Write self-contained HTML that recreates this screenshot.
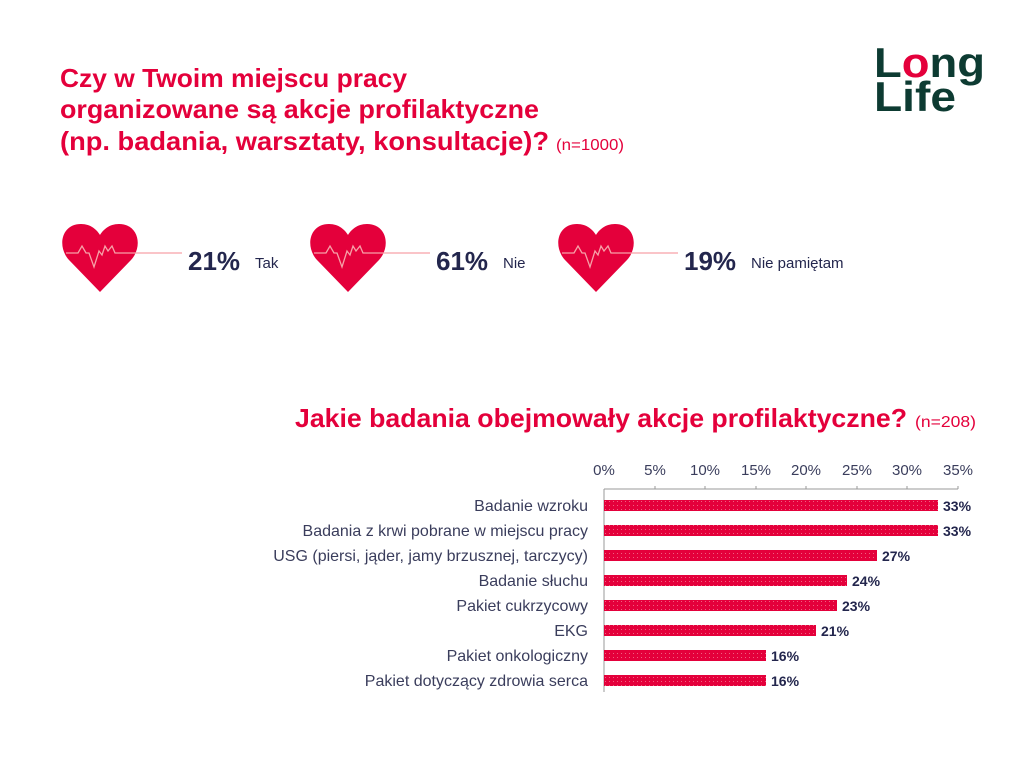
<!DOCTYPE html>
<html><head><meta charset="utf-8"><style>
html,body{margin:0;padding:0;background:#fff;width:1024px;height:768px;overflow:hidden}
svg{display:block}
</style></head><body>
<svg width="1024" height="768" viewBox="0 0 1024 768" xmlns="http://www.w3.org/2000/svg" font-family="Liberation Sans, sans-serif">
<defs>
<pattern id="dots" width="4" height="4" patternUnits="userSpaceOnUse">
<rect width="4" height="4" fill="#e4003b"/><rect x="1" y="1" width="1" height="1" fill="#f06080"/>
</pattern>
<g id="heart">
<path d="M40,70 L9,38 C-3,25 1,2 21,2 C31,2 37,8 40,13 C43,8 49,2 59,2 C79,2 83,25 71,38 Z" fill="#e4003b"/>
<polyline points="6,31 18,31 22,24 26,31 29,31 34,45 39,29 42,33 45,24 48,29 52,24 55,31 80,31" fill="none" stroke="#f6a1a8" stroke-width="1.3"/>
</g>
</defs>
<g fill="#e4003b" font-weight="bold" font-size="26">
<text x="60" y="87" textLength="347" lengthAdjust="spacingAndGlyphs">Czy w Twoim miejscu pracy</text>
<text x="60" y="118" textLength="479" lengthAdjust="spacingAndGlyphs">organizowane są akcje profilaktyczne</text>
<text x="60" y="150" textLength="489" lengthAdjust="spacingAndGlyphs">(np. badania, warsztaty, konsultacje)?</text>
<text x="556" y="150" font-size="16" font-weight="normal" textLength="68" lengthAdjust="spacingAndGlyphs">(n=1000)</text>
<text x="295" y="427" textLength="612" lengthAdjust="spacingAndGlyphs">Jakie badania obejmowały akcje profilaktyczne?</text>
<text x="915" y="427" font-size="16" font-weight="normal" textLength="61" lengthAdjust="spacingAndGlyphs">(n=208)</text>
</g>
<!-- logo -->
<g font-weight="bold" font-size="42" fill="#0d3b32">
<text x="874" y="77" textLength="111" lengthAdjust="spacingAndGlyphs">L<tspan fill="#e4003b">o</tspan>ng</text>
<text x="874" y="111" textLength="82" lengthAdjust="spacingAndGlyphs">Life</text>
</g>
<!-- hearts -->
<use href="#heart" x="60" y="222"/>
<line x1="140" y1="253" x2="182" y2="253" stroke="#f6a1a8" stroke-width="1.3"/>
<use href="#heart" x="308" y="222"/>
<line x1="388" y1="253" x2="430" y2="253" stroke="#f6a1a8" stroke-width="1.3"/>
<use href="#heart" x="556" y="222"/>
<line x1="636" y1="253" x2="678" y2="253" stroke="#f6a1a8" stroke-width="1.3"/>
<g fill="#23264d">
<text x="188" y="270" font-size="26" font-weight="bold">21%</text><text x="255" y="268" font-size="15">Tak</text>
<text x="436" y="270" font-size="26" font-weight="bold">61%</text><text x="503" y="268" font-size="15">Nie</text>
<text x="684" y="270" font-size="26" font-weight="bold">19%</text><text x="751" y="268" font-size="15">Nie pamiętam</text>
</g>
<!-- axis -->
<g fill="#3a3d5c" font-size="15" text-anchor="middle">
<text x="604" y="475">0%</text><text x="655" y="475">5%</text><text x="705" y="475">10%</text><text x="756" y="475">15%</text>
<text x="806" y="475">20%</text><text x="857" y="475">25%</text><text x="907" y="475">30%</text><text x="958" y="475">35%</text>
</g>
<g stroke="#999" stroke-width="1">
<line x1="604" y1="489" x2="958" y2="489"/>
<line x1="604" y1="489" x2="604" y2="692"/>
<line x1="655" y1="486" x2="655" y2="489"/><line x1="705" y1="486" x2="705" y2="489"/><line x1="756" y1="486" x2="756" y2="489"/>
<line x1="806" y1="486" x2="806" y2="489"/><line x1="857" y1="486" x2="857" y2="489"/><line x1="907" y1="486" x2="907" y2="489"/><line x1="958" y1="486" x2="958" y2="489"/>
</g>
<g fill="url(#dots)">
<rect x="604" y="500" width="334" height="11"/>
<rect x="604" y="525" width="334" height="11"/>
<rect x="604" y="550" width="273" height="11"/>
<rect x="604" y="575" width="243" height="11"/>
<rect x="604" y="600" width="233" height="11"/>
<rect x="604" y="625" width="212" height="11"/>
<rect x="604" y="650" width="162" height="11"/>
<rect x="604" y="675" width="162" height="11"/>
</g>
<g fill="#23264d" font-size="14" font-weight="bold">
<text x="943" y="511">33%</text><text x="943" y="536">33%</text><text x="882" y="561">27%</text><text x="852" y="586">24%</text>
<text x="842" y="611">23%</text><text x="821" y="636">21%</text><text x="771" y="661">16%</text><text x="771" y="686">16%</text>
</g>
<g fill="#3a3d5c" font-size="16" text-anchor="end">
<text x="588" y="511">Badanie wzroku</text>
<text x="588" y="536">Badania z krwi pobrane w miejscu pracy</text>
<text x="588" y="561">USG (piersi, jąder, jamy brzusznej, tarczycy)</text>
<text x="588" y="586">Badanie słuchu</text>
<text x="588" y="611">Pakiet cukrzycowy</text>
<text x="588" y="636">EKG</text>
<text x="588" y="661">Pakiet onkologiczny</text>
<text x="588" y="686">Pakiet dotyczący zdrowia serca</text>
</g>
</svg>
</body></html>
